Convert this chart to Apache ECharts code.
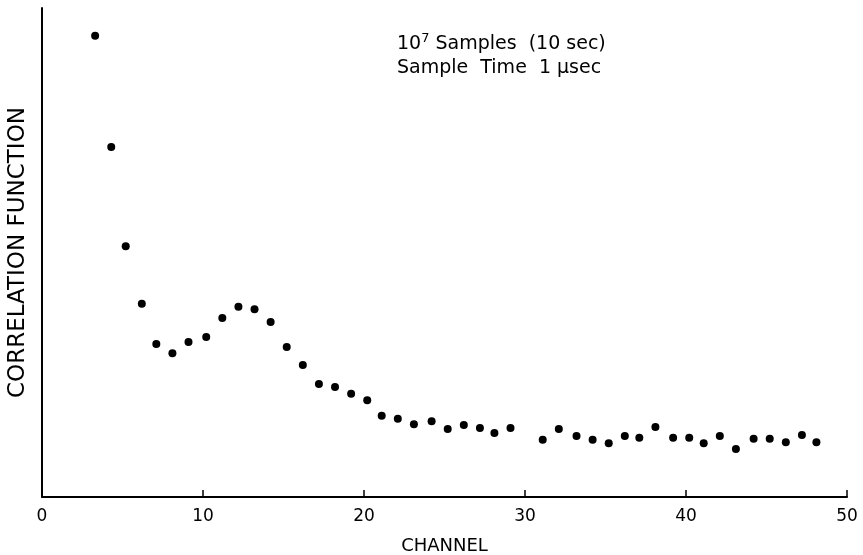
<!DOCTYPE html>
<html>
<head>
<meta charset="utf-8">
<script src="https://cdn.jsdelivr.net/npm/echarts@6/dist/echarts.min.js"></script>
<style>
html,body{margin:0;padding:0;background:#fff;}
#chart{width:863px;height:555px;}
</style>
</head>
<body>
<div id="chart"></div>
<script>
// Channel positions (as plotted) and correlation values (arbitrary units, 0-100 axis)
var channels = [3.3,4.3,5.2,6.2,7.1,8.1,9.1,10.2,11.2,12.2,13.2,14.2,15.2,16.2,17.2,18.2,19.2,20.2,21.1,22.1,23.1,24.2,25.2,26.2,27.2,28.1,29.1,
                31.1,32.1,33.2,34.2,35.2,36.2,37.1,38.1,39.2,40.2,41.1,42.1,43.1,44.2,45.2,46.2,47.2,48.1];
var values = [94.3,71.6,51.3,39.5,31.3,29.4,31.7,32.7,36.6,38.9,38.4,35.8,30.7,27.0,23.1,22.5,21.1,19.8,16.6,16.0,14.9,15.5,13.9,14.7,14.1,13.1,14.1,
              11.7,13.9,12.5,11.7,11.0,12.5,12.1,14.3,12.1,12.1,11.0,12.5,9.8,11.9,11.9,11.2,12.7,11.2];
var xTicks = [0,10,20,30,40,50];
var xName = 'CHANNEL';
var yName = 'CORRELATION FUNCTION';

var points = channels.map(function(c,i){return [c, values[i]];});
var font = 'DejaVu Sans';
var chart = echarts.init(document.getElementById('chart'));
chart.setOption({
  animation:false,
  backgroundColor:'#fff',
  grid:{left:42,right:16,top:8,bottom:58,containLabel:false,outerBoundsMode:'none'},
  xAxis:{
    type:'value', min:0, max:50, interval:10,
    axisLine:{show:true,lineStyle:{color:'#000',width:2}},
    axisTick:{show:true,inside:true,length:7,lineStyle:{color:'#000',width:1.5}},
    axisLabel:{color:'#000',fontSize:17,fontFamily:font,margin:11,
      formatter:function(v){return xTicks.indexOf(v)>=0?String(v):'';}},
    splitLine:{show:false},
    name:xName, nameLocation:'middle', nameGap:40,
    nameTextStyle:{color:'#000',fontSize:18,fontFamily:font}
  },
  yAxis:{
    type:'value', min:0, max:100,
    axisLine:{show:true,lineStyle:{color:'#000',width:2}},
    axisTick:{show:false},
    axisLabel:{show:false},
    splitLine:{show:false},
    name:yName, nameLocation:'middle', nameGap:12,
    nameTextStyle:{color:'#000',fontSize:23,fontFamily:font}
  },
  graphic:[{
    type:'text', left:397, top:32,
    style:{
      text:'{a|10}{s|7}{a| Samples  (10 sec)}\n{a|Sample  Time  1 µsec}',
      rich:{
        a:{fontSize:19,fontFamily:font,fill:'#000',lineHeight:24},
        s:{fontSize:13,fontFamily:font,fill:'#000',verticalAlign:'top',lineHeight:24}
      },
      fill:'#000'
    }
  }],
  series:[{
    type:'scatter', data:points, symbol:'circle', symbolSize:8,
    itemStyle:{color:'#000',opacity:1}
  }]
});
</script>
</body>
</html>
